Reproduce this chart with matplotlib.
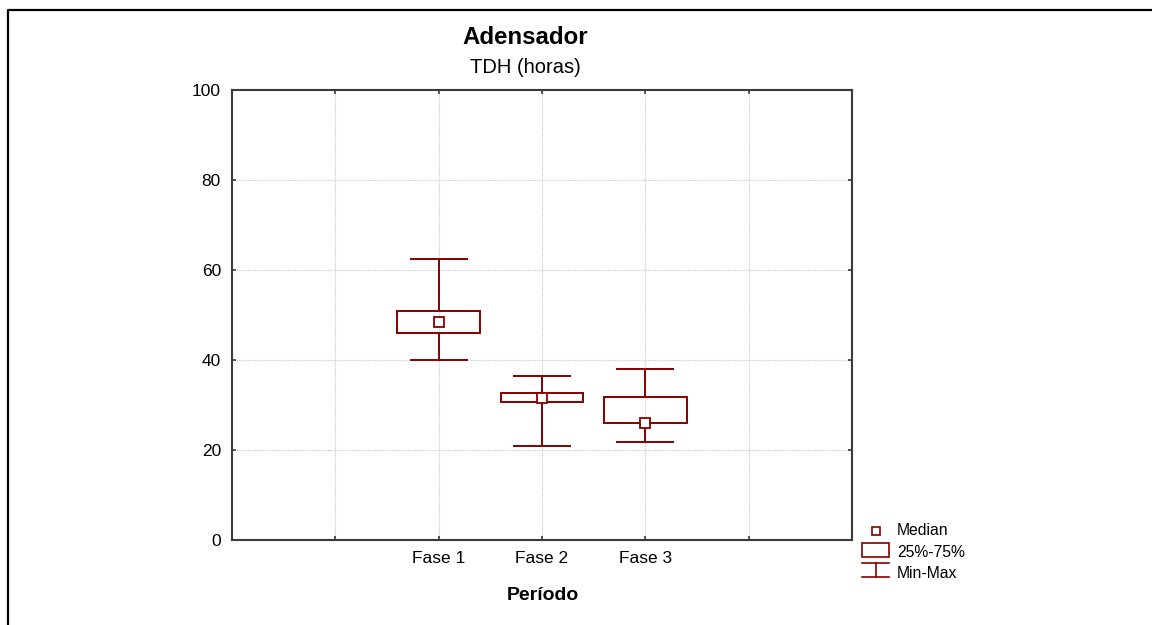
import matplotlib
matplotlib.use("Agg")
import matplotlib.pyplot as plt
from matplotlib.lines import Line2D
from matplotlib.patches import Rectangle

plt.rcParams['font.family'] = ['Liberation Sans', 'DejaVu Sans']

# Box-plot summary per phase
categories = ["Fase 1", "Fase 2", "Fase 3"]
minimum = [40.0, 21.0, 21.8]
q1 = [46.0, 30.6, 26.1]
median = [48.4, 31.6, 26.1]
q3 = [50.9, 32.7, 31.7]
maximum = [62.4, 36.5, 38.1]
y_ticks = [0, 20, 40, 60, 80, 100]

W, H = 1152, 625
DPI = 100
color = "#860000"
spine_color = "#3a3a3a"
lw = 1.4

fig = plt.figure(figsize=(W / DPI, H / DPI), dpi=DPI)
ax = fig.add_axes([232 / W, 1 - 540 / H, (852 - 232) / W, (540 - 90) / H])

pos = [i + 2 for i in range(len(categories))]
box_w = 0.8
cap_w = 0.56

# whiskers and caps
ax.vlines(pos, minimum, q1, color=color, lw=lw, zorder=3)
ax.vlines(pos, q3, maximum, color=color, lw=lw, zorder=3)
ax.hlines(minimum, [p - cap_w / 2 for p in pos], [p + cap_w / 2 for p in pos], color=color, lw=lw, zorder=3)
ax.hlines(maximum, [p - cap_w / 2 for p in pos], [p + cap_w / 2 for p in pos], color=color, lw=lw, zorder=3)
# interquartile boxes
ax.bar(pos, [b - a for a, b in zip(q1, q3)], bottom=q1, width=box_w, fill=False,
       edgecolor=color, linewidth=lw, zorder=3)
# medians
ax.plot(pos, median, linestyle="none", marker="s", markersize=6.5, markerfacecolor="white",
        markeredgecolor=color, markeredgewidth=1.3, zorder=4)

ax.set_xlim(0, len(categories) + 3)
ax.set_ylim(0, 100)
ax.set_yticks(y_ticks)
ax.set_xticks(range(1, len(categories) + 3))
ax.set_xticklabels([""] + categories + [""])
ax.grid(True, color="#c8c8c8", linestyle=(0, (1, 1)), linewidth=0.8)
ax.set_axisbelow(True)
ax.tick_params(direction="in", length=3, width=1.2, color=spine_color,
               top=True, right=True, labelsize=12.5, pad=8)
for sp in ax.spines.values():
    sp.set_color(spine_color)
    sp.set_linewidth(1.5)

def fx(px):
    return px / W

def fy(py):
    return 1 - py / H

fig.text(fx(525), fy(44), "Adensador", ha="center", va="baseline", fontsize=17.3, fontweight="bold")
fig.text(fx(525), fy(73), "TDH (horas)", ha="center", va="baseline", fontsize=14.5)
fig.text(fx(543), fy(600), "Período", ha="center", va="baseline", fontsize=14, fontweight="bold")

# legend glyphs
fig.add_artist(Line2D([fx(876)], [fy(531)], marker="s", markersize=5.5, markerfacecolor="white",
                      markeredgecolor=color, markeredgewidth=1.2, linestyle="none"))
fig.add_artist(Rectangle((fx(862), fy(557)), fx(27), 14 / H, fill=False, edgecolor=color, linewidth=1.2))
fig.add_artist(Line2D([fx(862), fx(889)], [fy(563), fy(563)], color=color, lw=1.2))
fig.add_artist(Line2D([fx(876), fx(876)], [fy(563), fy(577)], color=color, lw=1.2))
fig.add_artist(Line2D([fx(862), fx(889)], [fy(577), fy(577)], color=color, lw=1.2))
fig.text(fx(897), fy(535), "Median", ha="left", va="baseline", fontsize=11.3)
fig.text(fx(897), fy(557), "25%-75%", ha="left", va="baseline", fontsize=11.3)
fig.text(fx(897), fy(578), "Min-Max", ha="left", va="baseline", fontsize=11.3)

# outer frame (top and left edges)
fig.add_artist(Line2D([fx(8), fx(8), 1.0], [0.0, fy(10), fy(10)], color="black", lw=1.6))

fig.savefig("out.png", dpi=DPI)
